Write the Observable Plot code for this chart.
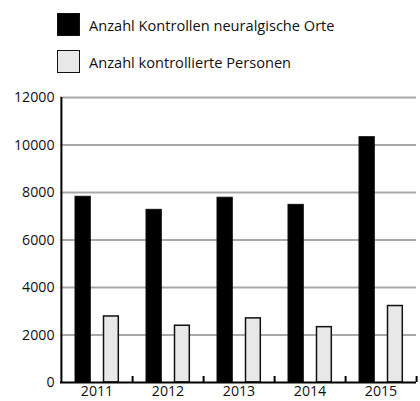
<!DOCTYPE html>
<html>
<head>
<meta charset="utf-8">
<script src="https://cdn.jsdelivr.net/npm/d3@7"></script>
<script src="https://cdn.jsdelivr.net/npm/@observablehq/plot@0.6"></script>
<style>
  html, body { margin: 0; padding: 0; background: #fff; }
  body { width: 420px; height: 401px; overflow: hidden; font-family: "Open Sans", sans-serif; color: #111; }
  #legend { position: relative; height: 80px; }
  .item { position: absolute; left: 57px; display: flex; align-items: center; font-size: 14.6px; }
  .sw { width: 21px; height: 21px; border: 1px solid #111; margin-right: 9px; box-sizing: content-box; }
</style>
</head>
<body>
<div id="legend"></div>
<div id="chart"></div>
<script>
// Data
const years = ["2011", "2012", "2013", "2014", "2015"];
const orte = [7820, 7270, 7780, 7480, 10330];
const personen = [2780, 2390, 2700, 2330, 3220];
const seriesNames = ["Anzahl Kontrollen neuralgische Orte", "Anzahl kontrollierte Personen"];
const seriesColors = ["#000000", "#e8e8e8"];
const yTicks = [0, 2000, 4000, 6000, 8000, 10000, 12000];

// Legend
const legend = document.getElementById("legend");
seriesNames.forEach((name, i) => {
  const item = document.createElement("div");
  item.className = "item";
  item.style.top = (i === 0 ? 13 : 50) + "px";
  const sw = document.createElement("div");
  sw.className = "sw";
  sw.style.background = seriesColors[i];
  const label = document.createElement("span");
  label.textContent = name;
  item.appendChild(sw);
  item.appendChild(label);
  legend.appendChild(item);
});

const rowsOrte = years.map((y, i) => ({year: y, value: orte[i]}));
const rowsPers = years.map((y, i) => ({year: y, value: personen[i]}));

const width = 420, height = 321;
const marginLeft = 60, marginRight = 4, marginTop = 17, marginBottom = 19;
const bw = (width - marginLeft - marginRight) / years.length;
const frameH = height - marginTop - marginBottom;

const chart = Plot.plot({
  width, height, marginLeft, marginRight, marginTop, marginBottom,
  style: {fontFamily: "'Open Sans', sans-serif", fontSize: "14.2px", color: "#111"},
  x: {type: "band", domain: years, padding: 0, tickSize: 0, tickPadding: 3, label: null},
  y: {domain: [0, 12000], ticks: yTicks, tickSize: 0, tickPadding: 6, label: null, tickFormat: d => String(d)},
  marks: [
    Plot.ruleY(yTicks.slice(1), {stroke: "#a8a8a8", strokeWidth: 2}),
    Plot.barY(rowsOrte, {x: "year", y: "value", fill: seriesColors[0], stroke: "#111", strokeWidth: 1, insetLeft: 14, insetRight: bw - 29.5}),
    Plot.barY(rowsPers, {x: "year", y: "value", fill: seriesColors[1], stroke: "#111", strokeWidth: 1.5, insetLeft: 42.5, insetRight: bw - 57.5}),
    Plot.ruleY([0], {stroke: "#000", strokeWidth: 2}),
    Plot.tickX(years.slice(0, 1), {stroke: "#000", strokeWidth: 2, dx: -bw / 2}),
    Plot.tickX(years, {stroke: "#000", strokeWidth: 2, dx: bw / 2, insetTop: frameH - 6})
  ]
});
document.getElementById("chart").appendChild(chart);
</script>
</body>
</html>
